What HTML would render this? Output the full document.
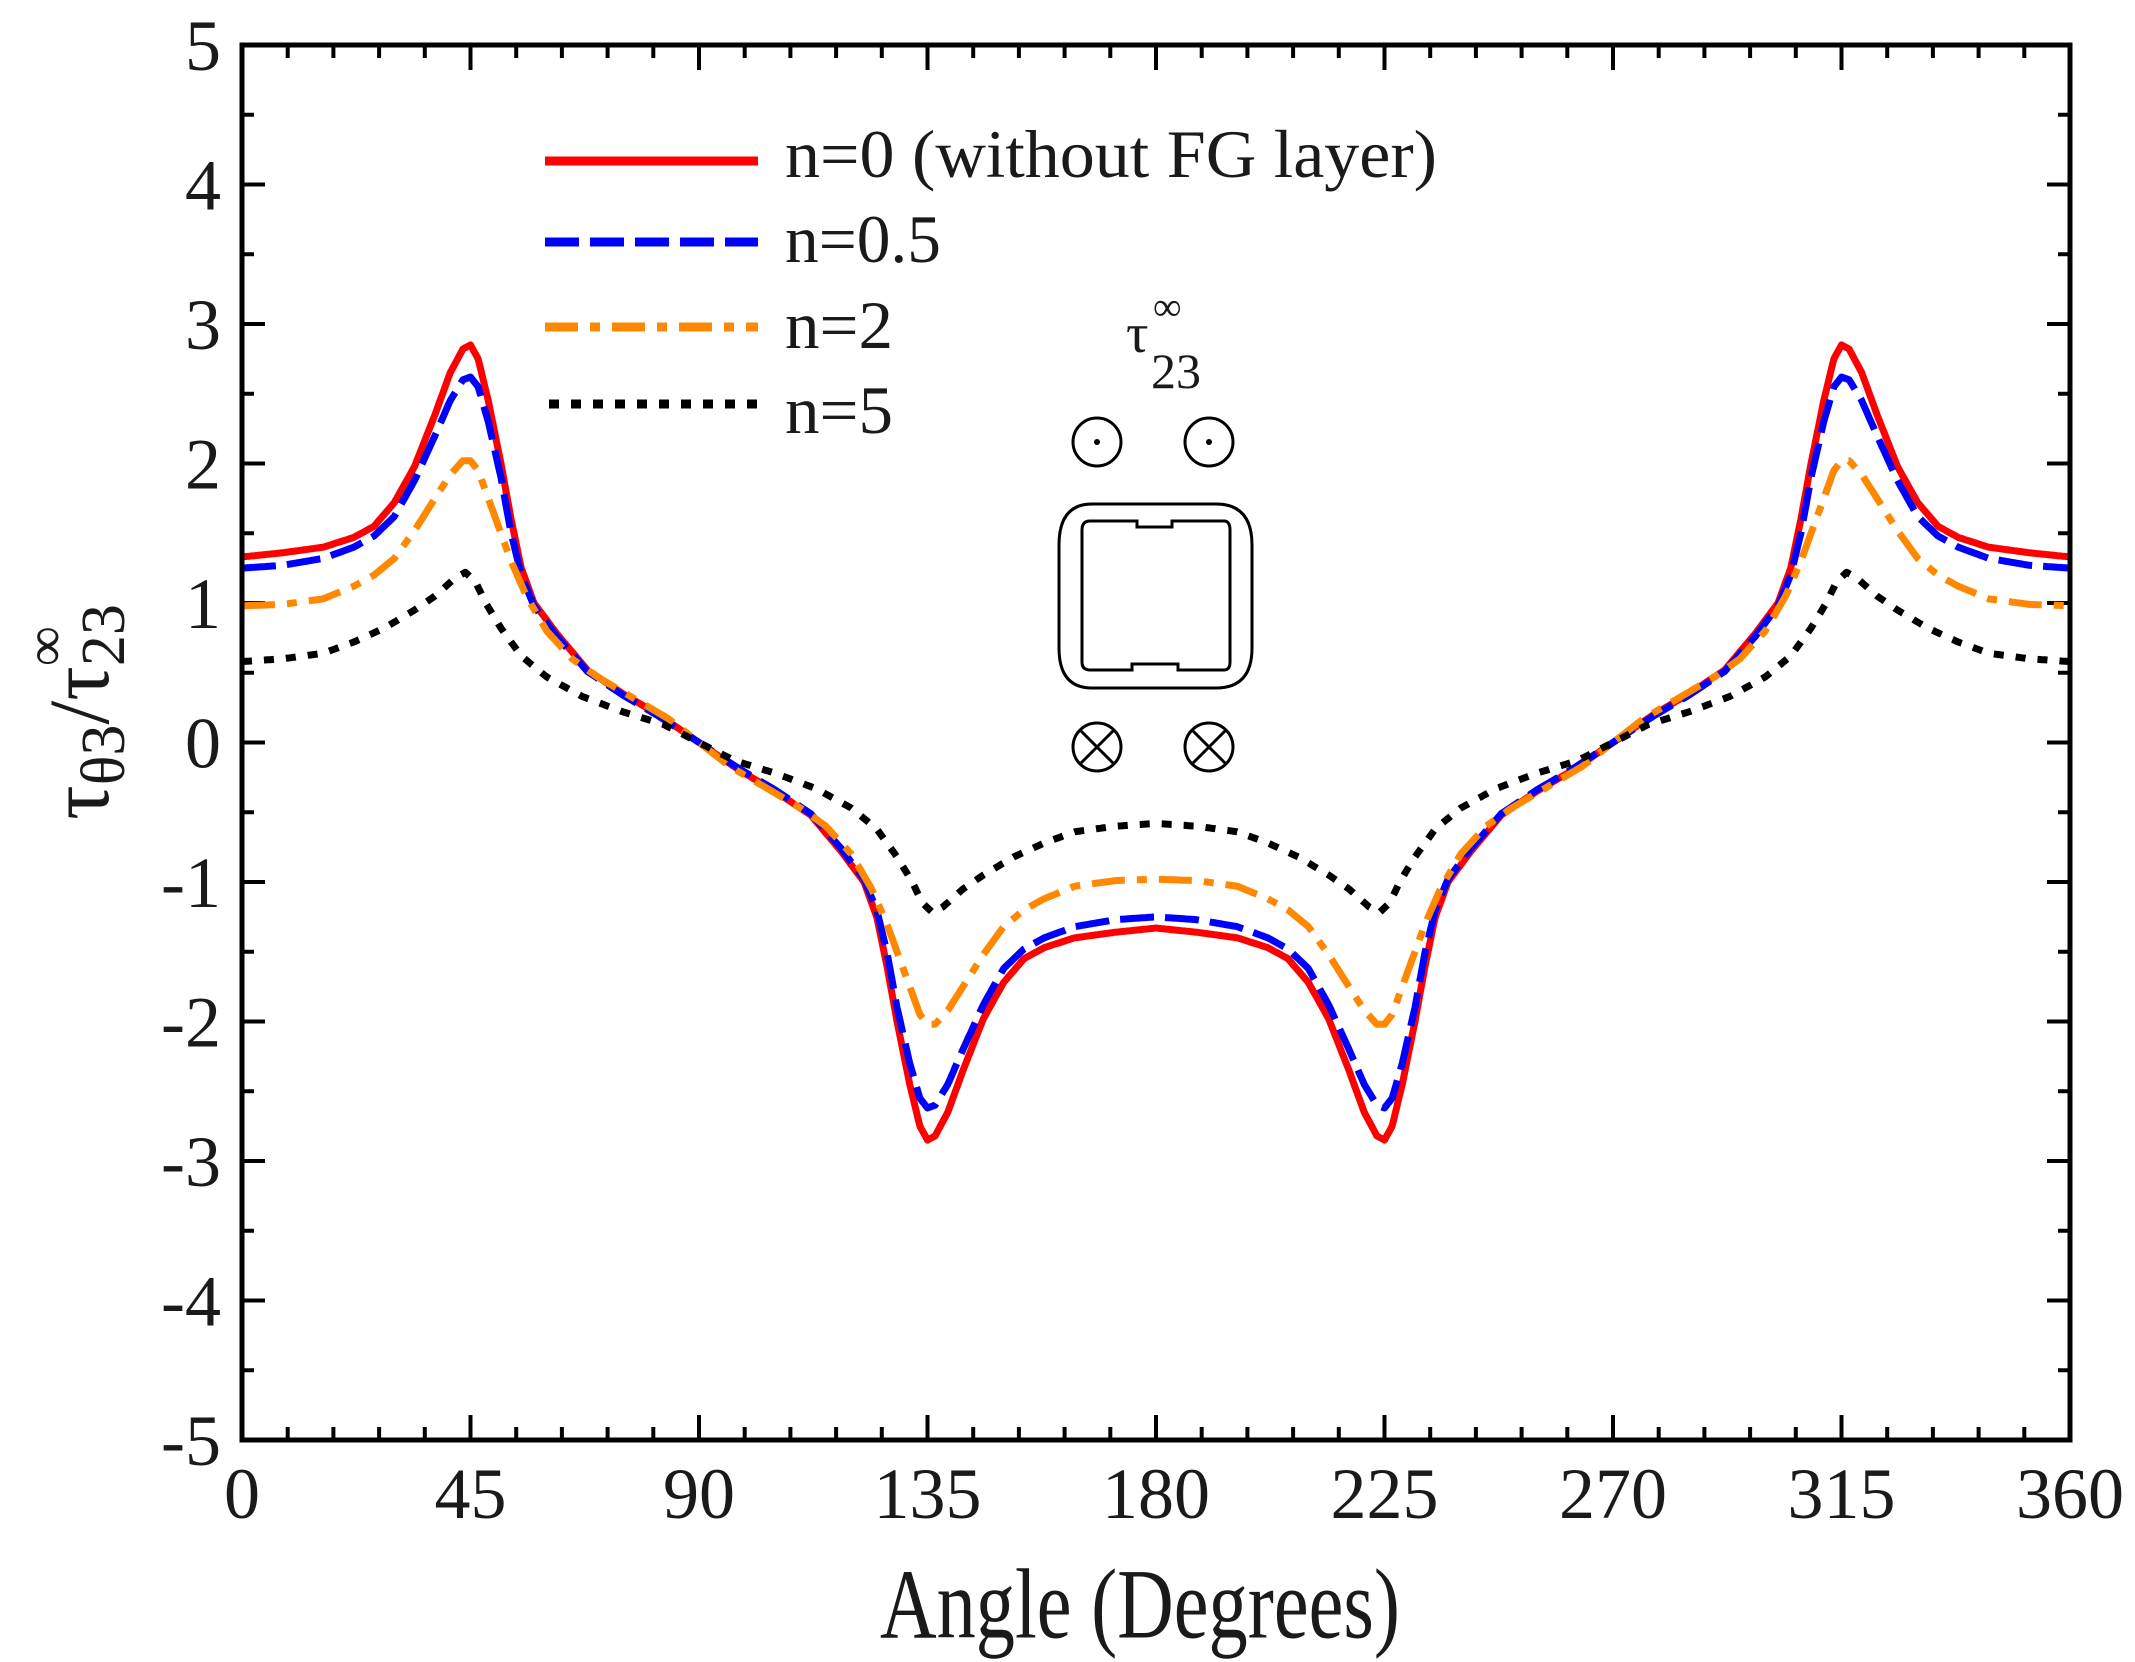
<!DOCTYPE html>
<html><head><meta charset="utf-8"><style>
html,body{margin:0;padding:0;background:#fff;}
svg{display:block;}
text{font-family:"Liberation Serif",serif;fill:#1a1a1a;}
</style></head><body>
<svg id="s" width="2135" height="1662" viewBox="0 0 2135 1662" xmlns="http://www.w3.org/2000/svg">
<g id="ticks" stroke="#000" stroke-width="4"></g>
<g id="curves" fill="none" stroke-linejoin="round"></g>
<rect x="242" y="45" width="1828" height="1395" fill="none" stroke="#000" stroke-width="5"/>
<g id="labels" font-size="72"></g>
<text x="1140" y="1638" font-size="80" text-anchor="middle" transform="translate(0,-410) scale(1,1.25)" textLength="520" lengthAdjust="spacingAndGlyphs">Angle (Degrees)</text>
<g transform="translate(108,712) rotate(-90)">
<text x="0" y="0" font-size="86" text-anchor="middle" fill="#3a1010">τ<tspan font-size="62" dy="16">θ3</tspan><tspan dy="-16">/τ</tspan><tspan font-size="62" dy="16">23</tspan><tspan font-size="56" dx="-62" dy="-60">∞</tspan></text>
</g>
<!-- legend -->
<line x1="545" y1="161" x2="758" y2="161" stroke="#ff0000" stroke-width="9"/>
<line x1="545" y1="242" x2="758" y2="242" stroke="#0000ff" stroke-width="9" stroke-dasharray="34,11"/>
<line x1="545" y1="327" x2="758" y2="327" stroke="#ff8800" stroke-width="9" stroke-dasharray="33,12,10,12"/>
<line x1="549" y1="404" x2="758" y2="404" stroke="#000" stroke-width="9" stroke-dasharray="10,12"/>
<text x="785" y="177" font-size="68" textLength="652" lengthAdjust="spacingAndGlyphs">n=0 (without FG layer)</text>
<text x="785" y="262" font-size="68" textLength="156" lengthAdjust="spacingAndGlyphs">n=0.5</text>
<text x="785" y="348" font-size="68" textLength="108" lengthAdjust="spacingAndGlyphs">n=2</text>
<text x="785" y="433" font-size="68" textLength="108" lengthAdjust="spacingAndGlyphs">n=5</text>
<!-- inset -->
<text x="1126" y="352" font-size="56">τ</text>
<text x="1153" y="320" font-size="40">∞</text>
<text x="1151" y="388" font-size="50">23</text>
<g fill="none" stroke="#000" stroke-width="3">
<circle cx="1097" cy="442" r="24"/><circle cx="1209" cy="442" r="24"/>
<circle cx="1097" cy="747" r="24"/><circle cx="1209" cy="747" r="24"/>
<path d="M1080 730 L1114 764 M1114 730 L1080 764 M1192 730 L1226 764 M1226 730 L1192 764"/>
<path d="M1092 504 L1216 504 Q1252 504 1252 545 L1252 648 Q1252 688 1216 688 L1092 688 Q1059 688 1059 648 L1059 545 Q1059 504 1092 504 Z"/>
<path d="M1096 521 L1137 521 L1137 527 L1172 527 L1172 521 L1224 521 Q1230 521 1230 530 L1230 662 Q1230 670 1224 670 L1178 670 L1178 664 L1132 664 L1132 670 L1090 670 Q1082 670 1082 662 L1082 530 Q1082 521 1090 521 Z"/>
</g>
<circle cx="1097" cy="442" r="3" fill="#000"/><circle cx="1209" cy="442" r="3" fill="#000"/>
</svg>
<script>
var NS="http://www.w3.org/2000/svg";
function el(p,t,a){var e=document.createElementNS(NS,t);for(var k in a)e.setAttribute(k,a[k]);p.appendChild(e);return e;}
var X0=242,X1=2070,Y0=45,Y1=1440;
function px(a){return X0+(a/360)*(X1-X0);}
function py(v){return 742.5-v*139.5;}
var tk=document.getElementById('ticks'),lb=document.getElementById('labels');
for(var a=0;a<=360;a+=9){var L=(a%45==0)?25:13;
 el(tk,'line',{x1:px(a),y1:Y1,x2:px(a),y2:Y1-L});el(tk,'line',{x1:px(a),y1:Y0,x2:px(a),y2:Y0+L});
 if(a%45==0){var t=el(lb,'text',{x:px(a),y:1518,'text-anchor':'middle'});t.textContent=a;}}
for(var v=-5;v<=5;v+=0.5){var L=(Math.abs(v%1)<1e-6)?23:12;
 el(tk,'line',{x1:X0,y1:py(v),x2:X0+L,y2:py(v)});el(tk,'line',{x1:X1,y1:py(v),x2:X1-L,y2:py(v)});
 if(Math.abs(v%1)<1e-6){var t=el(lb,'text',{x:221,y:py(v)+25,'text-anchor':'end'});t.textContent=(v<0?'-':'')+Math.abs(v);}}
var S=[
 {c:'#ff0000',d:'',p:[[0,1.33],[8,1.36],[16,1.40],[22,1.47],[26,1.55],[30,1.72],[34,1.98],[38,2.35],[41,2.65],[43.5,2.82],[45,2.85],[46.5,2.75],[48.5,2.45],[51,2.0],[53,1.6],[55,1.25],[57.5,1.0],[62,0.78],[68,0.52],[75,0.35],[82,0.2],[90,0]]},
 {c:'#0000ff',d:'34,11',p:[[0,1.25],[8,1.27],[16,1.32],[22,1.4],[26,1.48],[30,1.62],[34,1.88],[38,2.2],[41,2.45],[43.5,2.6],[45,2.62],[46.5,2.55],[48.5,2.3],[51,1.9],[53,1.5],[55,1.2],[57.5,0.98],[62,0.76],[68,0.51],[75,0.34],[82,0.19],[90,0]]},
 {c:'#ff8800',d:'33,12,10,12',p:[[0,0.98],[8,0.99],[16,1.03],[22,1.12],[26,1.2],[30,1.32],[34,1.52],[38,1.75],[41,1.92],[43.5,2.02],[45,2.02],[46.5,1.95],[48.5,1.75],[51,1.5],[53,1.3],[56,1.05],[60,0.8],[65,0.6],[70,0.47],[77,0.32],[84,0.17],[90,0]]},
 {c:'#000000',d:'10,12',p:[[0,0.58],[8,0.6],[16,0.64],[22,0.72],[28,0.82],[34,0.95],[38,1.05],[42,1.18],[44,1.22],[46,1.15],[48,1.0],[51,0.82],[55,0.62],[60,0.47],[67,0.33],[75,0.22],[83,0.13],[90,0]]}];
function g(P,t){for(var i=0;i<P.length-1;i++){if(t<=P[i+1][0]){var f=(t-P[i][0])/(P[i+1][0]-P[i][0]);return P[i][1]+f*(P[i+1][1]-P[i][1]);}}return 0;}
function f(P,t){if(t>180)t=360-t;return t<=90?g(P,t):-g(P,180-t);}
var cg=document.getElementById('curves');
S.forEach(function(s){var d='';for(var t=0;t<=360.001;t+=0.5){d+=(t==0?'M':'L')+px(t).toFixed(1)+' '+py(f(s.p,t)).toFixed(1);}
 var a={d:d,stroke:s.c,'stroke-width':7};if(s.d)a['stroke-dasharray']=s.d;el(cg,'path',a);});
</script>
</body></html>
